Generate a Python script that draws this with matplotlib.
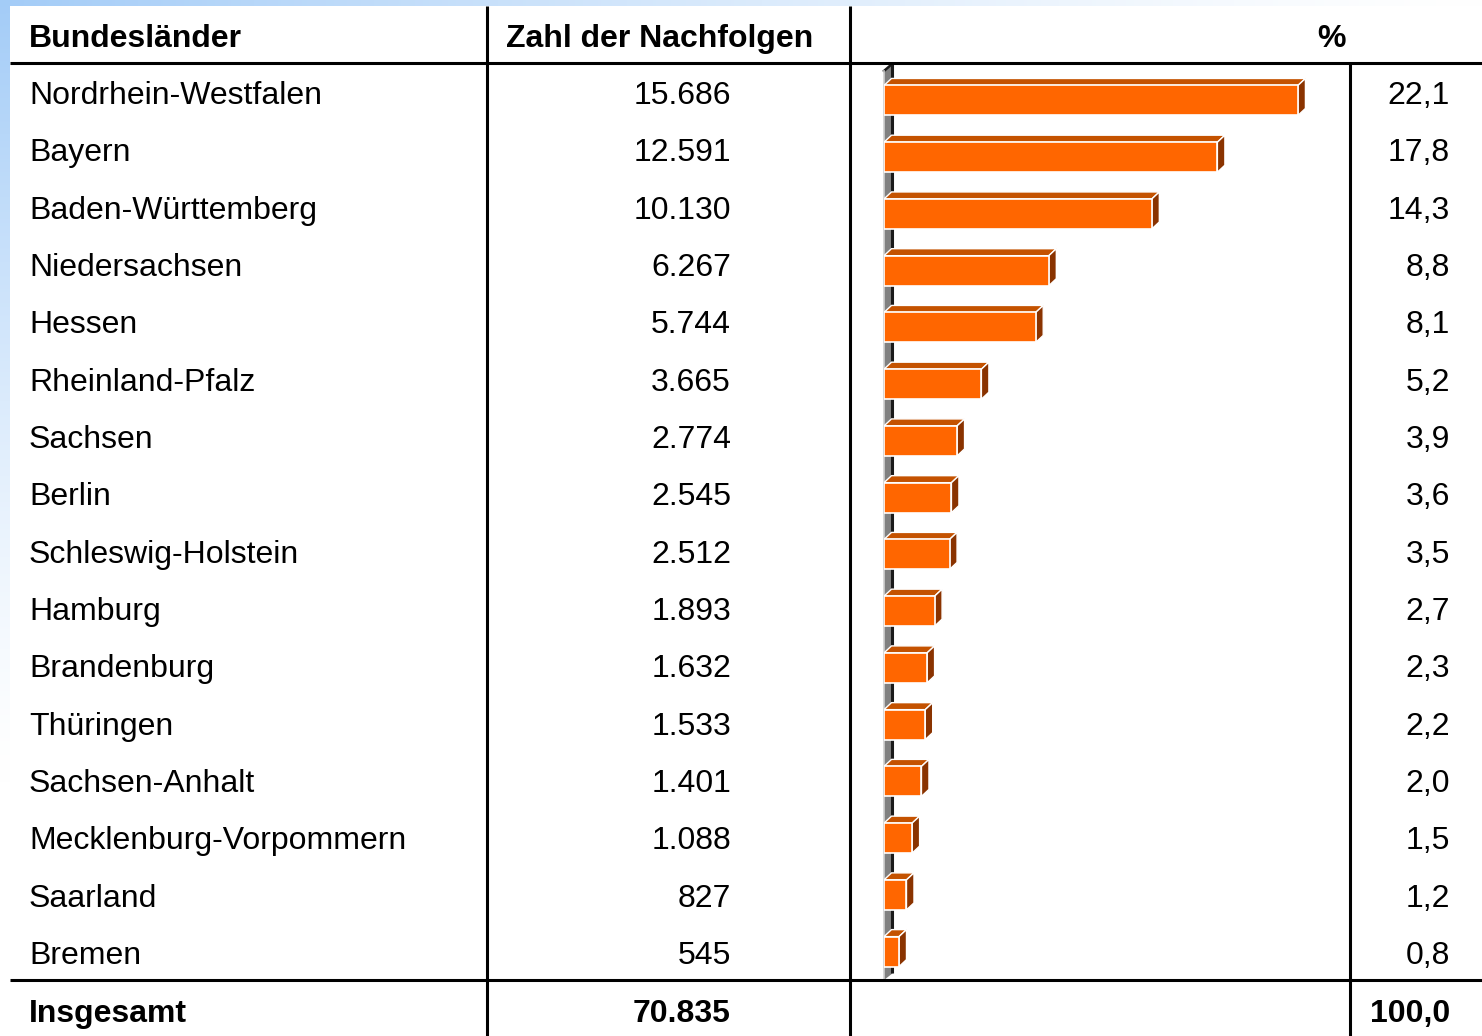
import numpy as np
import matplotlib
matplotlib.use("Agg")
import matplotlib.pyplot as plt
from matplotlib.patches import Polygon, Rectangle

# ---------------- data ----------------
laender = ["Nordrhein-Westfalen", "Bayern", "Baden-Württemberg", "Niedersachsen",
           "Hessen", "Rheinland-Pfalz", "Sachsen", "Berlin", "Schleswig-Holstein",
           "Hamburg", "Brandenburg", "Thüringen", "Sachsen-Anhalt",
           "Mecklenburg-Vorpommern", "Saarland", "Bremen"]
nachfolgen = [15686, 12591, 10130, 6267, 5744, 3665, 2774, 2545, 2512,
              1893, 1632, 1533, 1401, 1088, 827, 545]
prozent = [22.1, 17.8, 14.3, 8.8, 8.1, 5.2, 3.9, 3.6, 3.5,
           2.7, 2.3, 2.2, 2.0, 1.5, 1.2, 0.8]
header = ["Bundesländer", "Zahl der Nachfolgen", "%"]
total_label = "Insgesamt"
total_count = 70835
total_pct = 100.0

def de_int(n):
    return f"{n:,}".replace(",", ".")

def de_pct(p):
    return f"{p:.1f}".replace(".", ",")

# ---------------- figure ----------------
W, H = 1482, 1036
fig = plt.figure(figsize=(W / 100, H / 100), dpi=100)
plt.rcParams['font.family'] = ['Liberation Sans', 'DejaVu Sans']

# background gradient (light blue top-left fading to white)
bg = fig.add_axes([0, 0, 1, 1])
bg.set_axis_off()
yy, xx = np.mgrid[0:H:4, 0:W:4]
r = np.sqrt((xx / W) ** 2 + (yy / (0.75 * H)) ** 2)
f = np.clip(1 - r, 0, 1) ** 1.3
blue = np.array([0.64, 0.80, 0.97])
img = 1 - f[..., None] * (1 - blue)
bg.imshow(img, extent=[0, W, H, 0], aspect='auto', interpolation='bilinear')
bg.set_xlim(0, W)
bg.set_ylim(H, 0)
bg.add_patch(Rectangle((10, 6), W - 10, H - 6, facecolor='white', edgecolor='none'))

# overlay for table text and lines (pixel coordinates)
ov = fig.add_axes([0, 0, 1, 1], zorder=3)
ov.set_axis_off()
ov.set_xlim(0, W)
ov.set_ylim(H, 0)
ov.patch.set_alpha(0)

lw = 2.2
ov.plot([10, W], [63, 63], color='black', lw=lw, solid_capstyle='butt')
ov.plot([10, W], [980, 980], color='black', lw=lw, solid_capstyle='butt')
ov.plot([487, 487], [6, H], color='black', lw=lw, solid_capstyle='butt')
ov.plot([850, 850], [6, H], color='black', lw=lw, solid_capstyle='butt')
ov.plot([1350, 1350], [63, H], color='black', lw=lw, solid_capstyle='butt')

fs = 23.0
xl, xn, xp = 29, 731, 1450
ov.text(xl, 47, header[0], fontsize=fs, fontweight='bold', ha='left', va='baseline')
ov.text(660, 47, header[1], fontsize=fs, fontweight='bold', ha='center', va='baseline')
ov.text(1331, 47, header[2], fontsize=fs, fontweight='bold', ha='center', va='baseline')

row_step = 57.33
for i, (name, n, p) in enumerate(zip(laender, nachfolgen, prozent)):
    yb = 104 + row_step * i
    ov.text(xl, yb, name, fontsize=fs, ha='left', va='baseline')
    ov.text(xn, yb, de_int(n), fontsize=fs, ha='right', va='baseline')
    ov.text(xp, yb, de_pct(p), fontsize=fs, ha='right', va='baseline')

ov.text(xl, 1022, total_label, fontsize=fs, fontweight='bold', ha='left', va='baseline')
ov.text(xn, 1022, de_int(total_count), fontsize=fs, fontweight='bold', ha='right', va='baseline')
ov.text(xp, 1022, de_pct(total_pct), fontsize=fs, fontweight='bold', ha='right', va='baseline')

# ---------------- 3D-look bar chart ----------------
ax_left, ax_right, ax_top, ax_bot = 884, 1350, 63, 980
ax = fig.add_axes([ax_left / W, 1 - ax_bot / H, (ax_right - ax_left) / W, (ax_bot - ax_top) / H],
                  zorder=2)
ax.set_axis_off()
ax.patch.set_alpha(0)
xmax = 24.88
ylo, yhi = 15.5, -0.66
ax.set_xlim(0, xmax)
ax.set_ylim(ylo, yhi)

px_x = (ax_right - ax_left) / xmax
px_y = (ax_bot - ax_top) / (ylo - yhi)
dx = 7.5 / px_x
dy = 7.0 / px_y
h = 30 / px_y
wdx = 9.0 / px_x

front_c = '#FF6600'
top_c = '#C45200'
side_c = '#8A3300'

# side wall
wtop, wbot = -0.52, 15.5
ax.add_patch(Polygon([(0, wbot), (0, wtop), (wdx, wtop - dy), (wdx, wbot - dy)],
                     closed=True, facecolor='#808080', edgecolor='none', zorder=1,
                     clip_on=False))
ax.plot([wdx * 0.9, wdx * 0.9], [wtop - dy, wbot - dy], color='#1A1A1A', lw=2.2,
        zorder=1.5, clip_on=False, solid_capstyle='butt')
ax.plot([0, wdx * 0.9], [wtop, wtop - dy], color='#1A1A1A', lw=1.8, zorder=1.5, clip_on=False)
ax.plot([0, 0], [wtop, wbot], color='#D0D0D0', lw=1.2, zorder=1.6, clip_on=False)

ypos = np.arange(len(prozent))
for y, p in zip(ypos, prozent):
    t = y - h / 2
    b = y + h / 2
    ax.add_patch(Polygon([(0, t), (p, t), (p + dx, t - dy), (dx, t - dy)], closed=True,
                         facecolor=top_c, edgecolor='white', lw=1.0, zorder=3))
    ax.add_patch(Polygon([(p, t), (p, b), (p + dx, b - dy), (p + dx, t - dy)], closed=True,
                         facecolor=side_c, edgecolor='white', lw=1.0, zorder=3))
ax.barh(ypos, prozent, height=h, left=0, color=front_c, edgecolor='white', lw=1.2, zorder=4)

fig.savefig("out.png", dpi=100)
